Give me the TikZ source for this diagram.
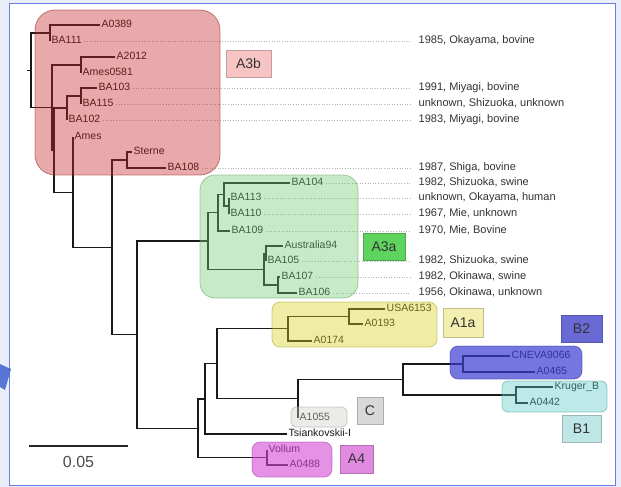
\documentclass[tikz,border=0pt]{standalone}
\usepackage{fontspec}
\setmainfont{Liberation Sans}
\usetikzlibrary{positioning}

\definecolor{outerbg}{RGB}{234,238,250}
\definecolor{framecol}{RGB}{106,125,224}
\definecolor{arrowblue}{RGB}{64,96,208}
\definecolor{redbox}{RGB}{197,40,40}
\definecolor{greenbox}{RGB}{117,207,117}
\definecolor{yellowbox}{RGB}{217,210,30}
\definecolor{bluebox}{RGB}{61,61,211}
\definecolor{cyanbox}{RGB}{90,202,202}
\definecolor{graybox}{RGB}{205,205,195}
\definecolor{pinkbox}{RGB}{213,72,213}
\definecolor{tagred}{RGB}{247,196,196}
\definecolor{taggreen}{RGB}{94,212,94}
\definecolor{tagyellow}{RGB}{242,239,176}
\definecolor{tagblue}{RGB}{106,106,214}
\definecolor{tagcyan}{RGB}{191,230,230}
\definecolor{taggray}{RGB}{216,216,216}
\definecolor{tagpink}{RGB}{224,139,224}

\tikzset{
  branch/.style={line width=1.4pt, black!90},
  leaf/.style={anchor=west, inner sep=1.5pt, text=black!90,
    font=\fontsize{10.5}{12}\selectfont, text height=7.5pt, text depth=2pt},
  meta/.style={leaf, text=black!80, font=\fontsize{11}{13}\selectfont},
  dotline/.style={dotted, gray!60, line width=0.6pt, shorten >=7pt, shorten <=1pt},
  cladebox/.style={draw=#1!75!black, fill=#1, fill opacity=0.4, draw opacity=0.5, line width=0.8pt},
  tag/.style={draw=#1!80!black, fill=#1, text=black!80, inner sep=0pt,
    font=\fontsize{14}{16}\selectfont}
}

\begin{document}
\begin{tikzpicture}[x=1pt, y=-1pt]
	\useasboundingbox (0,0) rectangle (621,487);
	\fill[outerbg] (0,0) rectangle (621,487);
	\draw[framecol, fill=white, line width=1pt] (9,4) rectangle (615,485);
	\fill[arrowblue, opacity=0.85] (0,364) -- (11,369) -- (5,390) -- (0,387) -- cycle;

	% inner nodes of the tree
	\coordinate (stub) at (27,70.3);
	\coordinate (root) at (31,70.3);
	\coordinate (nTop) at (50,33);
	\coordinate (nMain) at (52,107.5);
	\coordinate (nA2012) at (81,65);
	\coordinate (nS1) at (54,150.1);
	\coordinate (nBA102) at (67,108);
	\coordinate (nBA103) at (81,96);
	\coordinate (nS2) at (73,192.2);
	\coordinate (nS3) at (112,247.3);
	\coordinate (nSterne) at (127,160);
	\coordinate (nS4) at (137,334.6);
	\coordinate (nA3a) at (208,241);
	\coordinate (nA3aTop) at (218,212.75);
	\coordinate (nBA104) at (224,194.5);
	\coordinate (nBA113) at (229,206);
	\coordinate (nA3aBot) at (264,269.25);
	\coordinate (nAus) at (266,253.5);
	\coordinate (nBA107) at (278,285);
	\coordinate (nS5) at (198,428.2);
	\coordinate (nS6) at (205,398.9);
	\coordinate (nS7) at (217,363.75);
	\coordinate (nA1a) at (288,328.75);
	\coordinate (nUSA) at (349,316.5);
	\coordinate (nS8) at (298,398.75);
	\coordinate (nB) at (403,379.5);
	\coordinate (nB2) at (463,364);
	\coordinate (nB1) at (516,395);
	\coordinate (nA4) at (267,457.5);

	% leaves
	\node[leaf] (A0389) at (100,25) {A0389};
	\node[leaf] (BA111) at (50,41) {BA111};
	\node[leaf] (A2012) at (115,57) {A2012};
	\node[leaf] (Ames0581) at (81,73) {Ames0581};
	\node[leaf] (BA103) at (97,88) {BA103};
	\node[leaf] (BA115) at (81,104) {BA115};
	\node[leaf] (BA102) at (67,120) {BA102};
	\node[leaf] (Ames) at (73,137) {Ames};
	\node[leaf] (Sterne) at (132,152) {Sterne};
	\node[leaf] (BA108) at (166,168) {BA108};
	\node[leaf] (BA104) at (290,183) {BA104};
	\node[leaf] (BA113) at (229,198) {BA113};
	\node[leaf] (BA110) at (229,214) {BA110};
	\node[leaf] (BA109) at (230,231) {BA109};
	\node[leaf] (Australia94) at (283,246) {Australia94};
	\node[leaf] (BA105) at (266,261) {BA105};
	\node[leaf] (BA107) at (280,277) {BA107};
	\node[leaf] (BA106) at (297,293) {BA106};
	\node[leaf] (USA6153) at (385,309) {USA6153};
	\node[leaf] (A0193) at (363,324) {A0193};
	\node[leaf] (A0174) at (312,341) {A0174};
	\node[leaf] (CNEVA9066) at (510,356) {CNEVA9066};
	\node[leaf] (A0465) at (535,372) {A0465};
	\node[leaf] (krugerB) at (553,387) {Kruger\_B};
	\node[leaf] (A0442) at (528,403) {A0442};
	\node[leaf] (A1055) at (298,418) {A1055};
	\node[leaf] (tsiank) at (287,434) {Tsiankovskii-I};
	\node[leaf] (Vollum) at (267,450) {Vollum};
	\node[leaf] (A0488) at (288,465) {A0488};

	% branches
	\draw[branch] (stub) -- (root);
	\foreach \p/\c in {root/nTop, root/nMain, nTop/A0389, nTop/BA111,
		nMain/nA2012, nMain/nS1, nA2012/A2012, nA2012/Ames0581,
		nS1/nBA102, nS1/nS2, nBA102/nBA103, nBA102/BA102,
		nBA103/BA103, nBA103/BA115, nS2/Ames, nS2/nS3,
		nS3/nSterne, nS3/nS4, nSterne/Sterne, nSterne/BA108,
		nS4/nA3a, nS4/nS5, nA3a/nA3aTop, nA3a/nA3aBot,
		nA3aTop/nBA104, nA3aTop/BA109, nBA104/BA104, nBA104/nBA113,
		nBA113/BA113, nBA113/BA110, nA3aBot/nAus, nA3aBot/nBA107,
		nAus/Australia94, nAus/BA105, nBA107/BA107, nBA107/BA106,
		nS5/nS6, nS5/nA4, nS6/nS7, nS6/tsiank, nS7/nA1a, nS7/nS8,
		nA1a/nUSA, nA1a/A0174, nUSA/USA6153, nUSA/A0193,
		nS8/nB, nS8/A1055, nB/nB2, nB/nB1, nB2/CNEVA9066, nB2/A0465,
		nB1/krugerB, nB1/A0442, nA4/Vollum, nA4/A0488}
		\draw[branch] (\p) |- (\c);

	% origin of the strains
	\foreach \l/\t [count=\i] in {BA111/{1985, Okayama, bovine},
		BA103/{1991, Miyagi, bovine}, BA115/{unknown, Shizuoka, unknown},
		BA102/{1983, Miyagi, bovine}, BA108/{1987, Shiga, bovine},
		BA104/{1982, Shizuoka, swine}, BA113/{unknown, Okayama, human},
		BA110/{1967, Mie, unknown}, BA109/{1970, Mie, Bovine},
		BA105/{1982, Shizuoka, swine}, BA107/{1982, Okinawa, swine},
		BA106/{1956, Okinawa, unknown}}
	{
		\node[meta] (m\i) at (417,0 |- \l) {\t};
		\draw[dotline] (\l) -- (m\i);
	}

	% clades
	\draw[cladebox=redbox, rounded corners=20pt] (35,10) rectangle (220,175);
	\draw[cladebox=greenbox, rounded corners=15pt] (200,175) rectangle (358,298);
	\draw[cladebox=yellowbox, rounded corners=8pt] (272,302) rectangle (437,347);
	\draw[cladebox=bluebox, fill opacity=0.7, rounded corners=8pt] (450,346) rectangle (582,379);
	\draw[cladebox=cyanbox, rounded corners=6pt] (502,381) rectangle (607,412);
	\draw[cladebox=graybox, rounded corners=5pt] (291,407) rectangle (347,427);
	\draw[cladebox=pinkbox, fill opacity=0.6, rounded corners=8pt] (252,442) rectangle (332,477);

	\node[tag=tagred, minimum width=45pt, minimum height=27pt] (tA3b) at (248.5,63.5) {A3b};
	\node[tag=taggreen, minimum width=42pt, minimum height=27pt] (tA3a) at (384,246.5) {A3a};
	\node[tag=tagyellow, minimum width=40pt, minimum height=29pt] (tA1a) at (463,322.5) {A1a};
	\node[tag=tagblue, minimum width=41pt, minimum height=27pt] (tB2) at (581.5,328.5) {B2};
	\node[tag=tagcyan, minimum width=39pt, minimum height=27pt] (tB1) at (581.5,428.5) {B1};
	\node[tag=taggray, minimum width=26pt, minimum height=27pt] (tC) at (370,410.5) {C};
	\node[tag=tagpink, minimum width=33pt, minimum height=28pt] (tA4) at (356.5,459) {A4};

	% scale bar
	\coordinate (sbl) at (29,446);
	\coordinate (sbr) at (128,446);
	\draw[line width=2pt, black!85] (sbl) -- (sbr)
		node[midway, below=6pt, font=\fontsize{16}{18}\selectfont, text=black!70] (sbtext) {0.05};
\end{tikzpicture}
\end{document}
